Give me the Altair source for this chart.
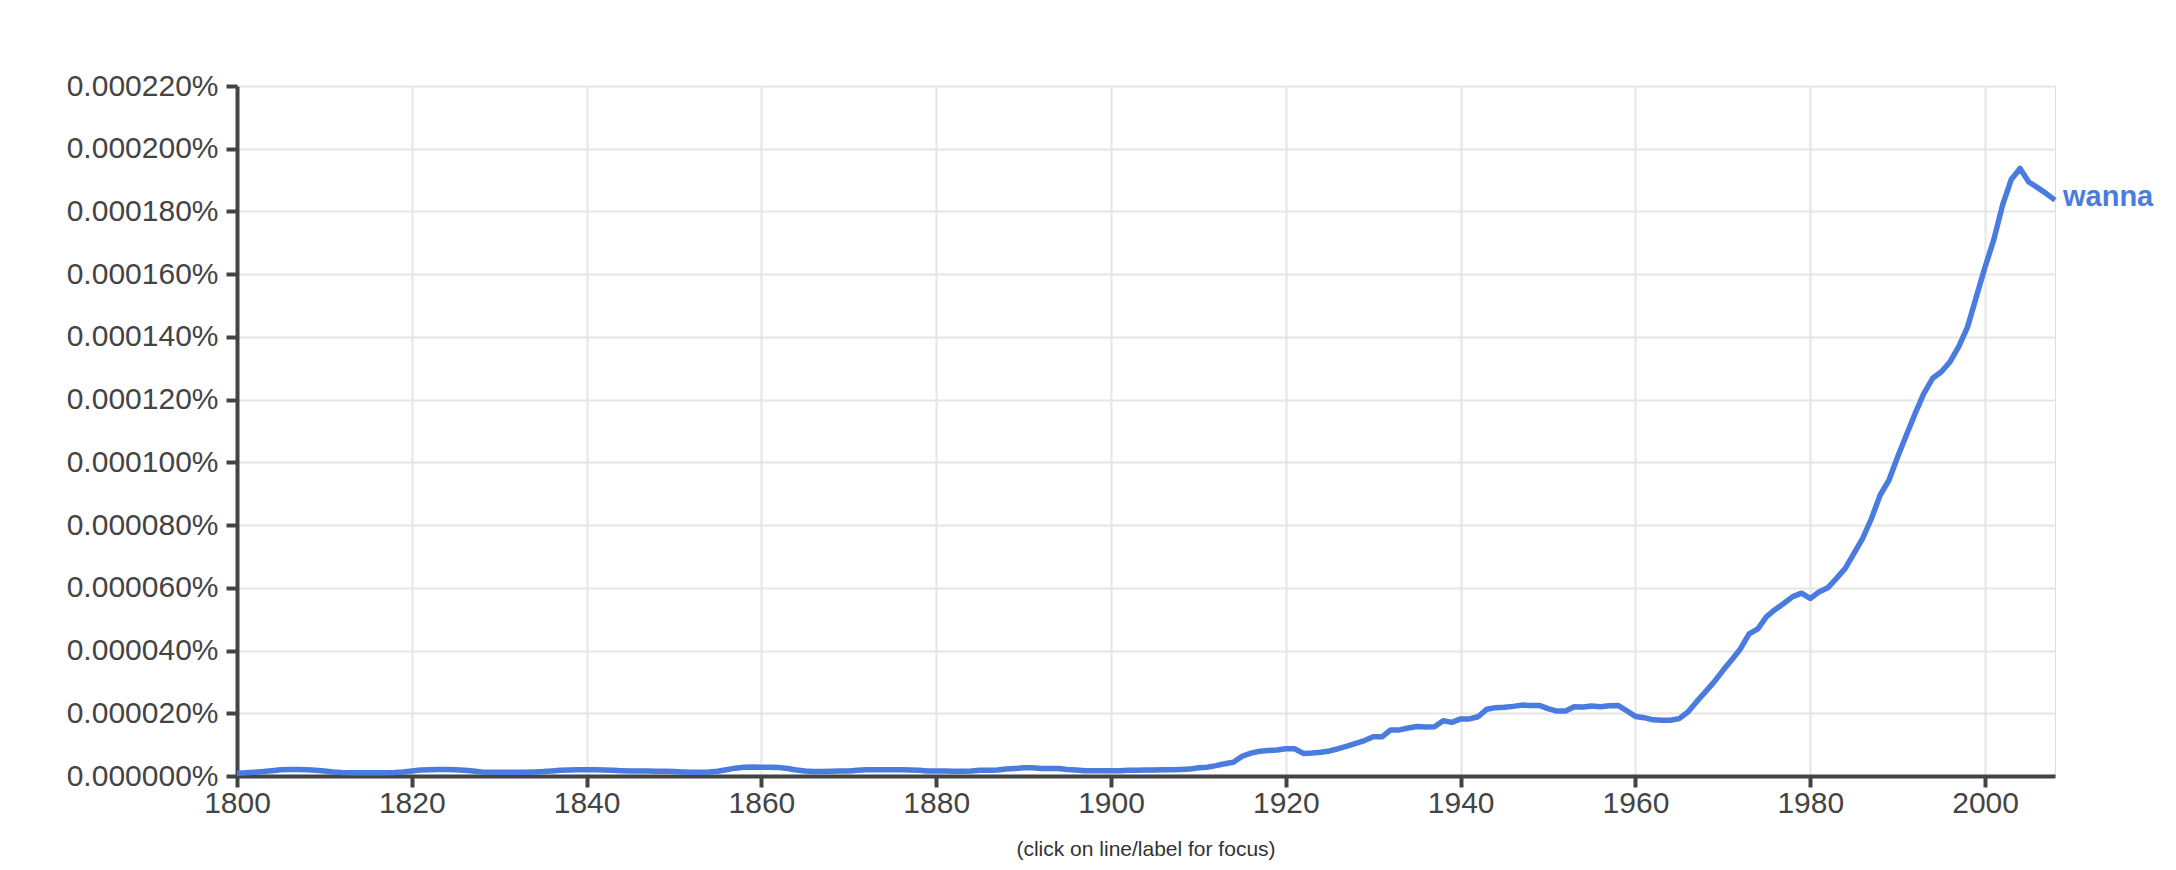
import altair as alt
import pandas as pd

# Google Books Ngram frequency of "wanna", in millionths of a percent (1e-6 %)
years = list(range(1800, 2009))
freq = [
    0.9, 1.0, 1.2, 1.4, 1.7, 2.0, 2.1, 2.1, 2.0, 1.8,        # 1800s
    1.6, 1.3, 1.1, 1.0, 1.0, 1.0, 1.0, 1.0, 1.1, 1.3,        # 1810s
    1.6, 1.9, 2.0, 2.1, 2.1, 2.0, 1.8, 1.6, 1.3, 1.2,        # 1820s
    1.2, 1.2, 1.2, 1.2, 1.3, 1.4, 1.6, 1.8, 1.9, 2.0,        # 1830s
    2.0, 2.0, 1.9, 1.8, 1.7, 1.6, 1.6, 1.6, 1.5, 1.5,        # 1840s
    1.4, 1.3, 1.2, 1.2, 1.3, 1.5, 2.0, 2.5, 2.8, 2.9,        # 1850s
    2.8, 2.8, 2.7, 2.4, 1.9, 1.6, 1.4, 1.4, 1.5, 1.6,        # 1860s
    1.6, 1.8, 2.0, 2.0, 2.0, 2.0, 2.0, 1.9, 1.8, 1.6,        # 1870s
    1.6, 1.6, 1.5, 1.5, 1.6, 1.8, 1.8, 1.9, 2.2, 2.4,        # 1880s
    2.6, 2.6, 2.4, 2.4, 2.4, 2.1, 1.9, 1.7, 1.7, 1.7,        # 1890s
    1.7, 1.7, 1.8, 1.8, 1.9, 1.9, 2.0, 2.0, 2.1, 2.2,        # 1900s
    2.6, 2.8, 3.3, 3.9, 4.4, 6.3, 7.3, 7.9, 8.1, 8.3,        # 1910s
    8.7, 8.7, 7.2, 7.3, 7.6, 8.0, 8.7, 9.5, 10.4, 11.3,      # 1920s
    12.5, 12.5, 14.7, 14.7, 15.3, 15.8, 15.6, 15.7, 17.6, 17.1,  # 1930s
    18.2, 18.2, 18.9, 21.3, 21.8, 21.9, 22.2, 22.6, 22.5, 22.5,  # 1940s
    21.5, 20.7, 20.7, 22.1, 22.0, 22.3, 22.1, 22.4, 22.5, 20.8,  # 1950s
    19.0, 18.6, 17.9, 17.8, 17.8, 18.3, 20.4, 23.7, 26.8, 30.0,  # 1960s
    33.6, 37.0, 40.5, 45.3, 46.9, 50.8, 53.1, 55.1, 57.2, 58.3,  # 1970s
    56.6, 58.7, 60.0, 63.0, 66.2, 71.0, 75.8, 82.1, 89.6, 94.3,  # 1980s
    101.8, 108.7, 115.6, 122.0, 126.8, 128.9, 132.1, 137.0, 143.2, 152.8,  # 1990s
    162.3, 171.0, 182.0, 190.2, 193.7, 189.4, 187.6, 185.7, 183.6,  # 2000s
]
series_name = "wanna"
x_ticks = [1800, 1820, 1840, 1860, 1880, 1900, 1920, 1940, 1960, 1980, 2000]
y_ticks = [0, 20, 40, 60, 80, 100, 120, 140, 160, 180, 200, 220]
footnote = "(click on line/label for focus)"

df = pd.DataFrame({"year": years, "freq": freq})
last = df.tail(1).assign(name=series_name)

FONT = "Liberation Sans"
BLUE = "#4a7bde"
DARK = "#444444"
W, H = 1818, 690

x_enc = alt.X(
    "year:Q",
    scale=alt.Scale(domain=[1800, 2008], nice=False, zero=False),
    axis=alt.Axis(
        values=x_ticks, format="d", title=None,
        labelFontSize=30, labelFont=FONT, labelColor=DARK,
        domainColor=DARK, domainWidth=4, tickColor=DARK, tickWidth=4, tickSize=11,
        labelPadding=1, gridColor="#e6e6e6", gridWidth=2, labelFlush=False,
    ),
)
y_enc = alt.Y(
    "freq:Q",
    scale=alt.Scale(domain=[0, 220], nice=False),
    axis=alt.Axis(
        values=y_ticks, title=None,
        labelExpr="format(datum.value / 1000000, '.6f') + '%'",
        labelFontSize=30, labelFont=FONT, labelColor=DARK,
        domainColor=DARK, domainWidth=4, tickColor=DARK, tickWidth=4, tickSize=11,
        labelPadding=8, gridColor="#e6e6e6", gridWidth=2, labelFlush=False,
    ),
)

line = alt.Chart(df).mark_line(color=BLUE, strokeWidth=5.5, strokeJoin="round").encode(
    x=x_enc, y=y_enc
)

label = alt.Chart(last).mark_text(
    align="left", baseline="middle", dx=8, dy=-3, fontSize=29, fontWeight="bold",
    font=FONT, color=BLUE,
).encode(x="year:Q", y="freq:Q", text="name:N")

note = alt.Chart(pd.DataFrame({"t": [footnote]})).mark_text(
    align="center", baseline="middle", fontSize=21, font=FONT, color="#333333",
).encode(x=alt.value(W / 2), y=alt.value(764), text="t:N")

chart = (
    alt.layer(line, label, note)
    .properties(
        width=W, height=H,
        autosize=alt.AutoSizeParams(type="none"),
        padding={"left": 229, "top": 78, "right": 105, "bottom": 86},
    )
    .configure_view(stroke=None)
    .configure(background="white")
)

chart.save("out.html", embed_options={"renderer": "svg", "actions": False})
